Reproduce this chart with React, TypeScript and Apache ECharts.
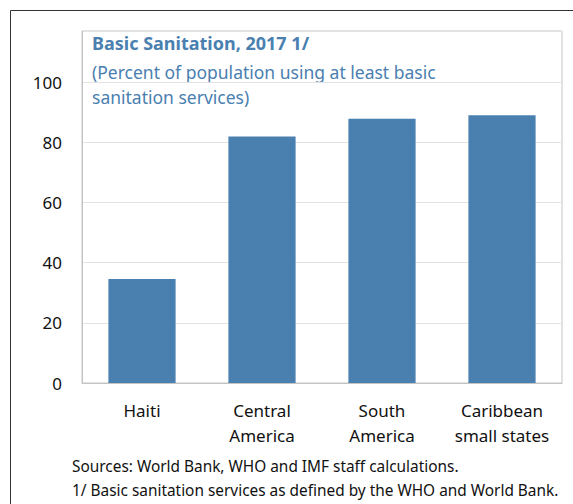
import React, { useEffect, useRef } from "react";
import * as echarts from "echarts";

const categories = ["Haiti", "Central\nAmerica", "South\nAmerica", "Caribbean\nsmall states"];
const values = [34.6, 81.9, 87.8, 89.0];
const yTicks = [0, 20, 40, 60, 80, 100];
const titleText = "Basic Sanitation, 2017 1/";
const subtitleLines = ["(Percent of population using at least basic", "sanitation services)"];
const footnotes = [
  "Sources: World Bank, WHO and IMF staff calculations.",
  "1/ Basic sanitation services as defined by the WHO and World Bank.",
];

const FONT = "'Noto Sans', 'Open Sans', sans-serif";
const BLUE = "#4a80b0";

export default function App() {
  const ref = useRef<HTMLDivElement>(null);
  useEffect(() => {
    if (!ref.current) return;
    const chart = echarts.init(ref.current, undefined, { renderer: "svg" });
    chart.setOption({
      animation: false,
      backgroundColor: "#ffffff",
      grid: {
        left: 82,
        top: 31,
        right: 11,
        bottom: 121,
        show: true,
        borderColor: "#c4c4c4",
        borderWidth: 1,
      },
      xAxis: {
        type: "category",
        data: categories,
        axisLine: { show: true, lineStyle: { color: "#c4c4c4" } },
        axisTick: { show: false },
        axisLabel: {
          interval: 0,
          hideOverlap: false,
          color: "#111",
          fontFamily: FONT,
          fontSize: 17,
          lineHeight: 25,
          margin: 15,
        },
      },
      yAxis: {
        type: "value",
        min: 0,
        max: 117,
        interval: 20,
        axisLine: { show: true, lineStyle: { color: "#c4c4c4" } },
        axisTick: { show: false },
        splitLine: { lineStyle: { color: "#e3e3e3" } },
        axisLabel: {
          color: "#111",
          fontFamily: FONT,
          fontSize: 17,
          margin: 20,
          showMaxLabel: false,
          formatter: (v: number) => (yTicks.includes(v) ? String(v) : ""),
        },
      },
      series: [
        {
          type: "bar",
          data: values,
          barWidth: "56%",
          itemStyle: { color: BLUE },
        },
      ],
      graphic: [
        {
          type: "line",
          shape: { x1: 10.5, y1: 10.5, x2: 573, y2: 10.5 },
          style: { stroke: "#333", lineWidth: 1 },
        },
        {
          type: "line",
          shape: { x1: 10.5, y1: 10.5, x2: 10.5, y2: 504 },
          style: { stroke: "#333", lineWidth: 1 },
        },
        {
          type: "text",
          left: 92,
          top: 34,
          style: {
            text: titleText,
            fill: BLUE,
            font: `bold 18px ${FONT}`,
          },
        },
        {
          type: "text",
          left: 92,
          top: 59,
          style: {
            text: subtitleLines.join("\n"),
            fill: BLUE,
            font: `17.5px ${FONT}`,
            lineHeight: 25,
          },
        },
        {
          type: "text",
          left: 72,
          top: 454,
          style: {
            text: footnotes.join("\n"),
            fill: "#111",
            font: `15.4px ${FONT}`,
            lineHeight: 24,
          },
        },
      ],
    });
    return () => chart.dispose();
  }, []);
  return (
    <div
      ref={ref}
      style={{ position: "fixed", left: 0, top: 0, width: 573, height: 504 }}
    />
  );
}
